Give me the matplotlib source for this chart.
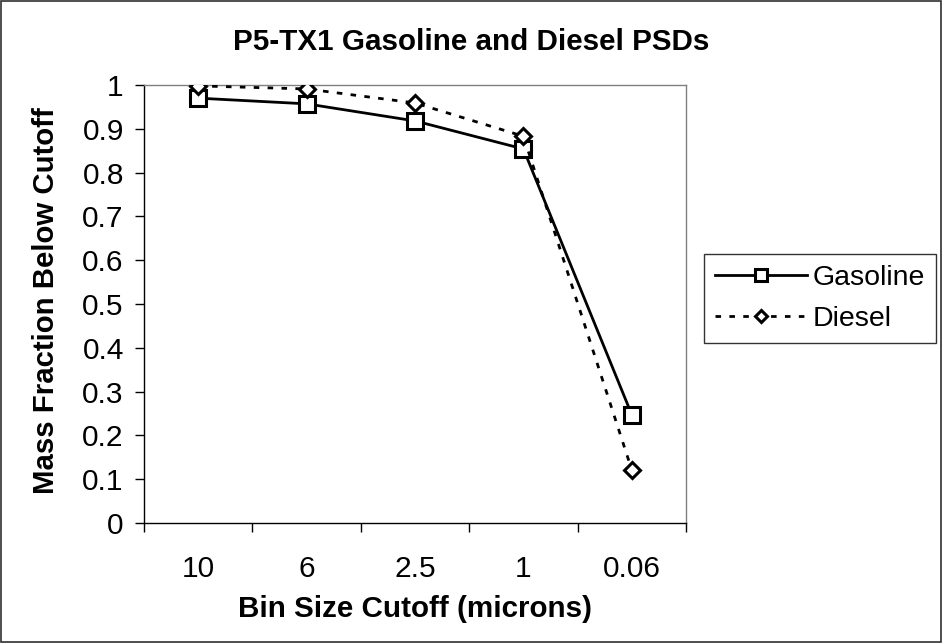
import matplotlib
matplotlib.use("Agg")
import matplotlib.pyplot as plt
from matplotlib.patches import Rectangle
import numpy as np

plt.rcParams["font.family"] = ["Liberation Sans", "DejaVu Sans"]

# --- datos ---
categories = ["10", "6", "2.5", "1", "0.06"]
gasoline = [0.970, 0.957, 0.918, 0.854, 0.247]
diesel = [0.998, 0.991, 0.959, 0.883, 0.121]
y_ticks = [0, 0.1, 0.2, 0.3, 0.4, 0.5, 0.6, 0.7, 0.8, 0.9, 1]
y_labels = ["0", "0.1", "0.2", "0.3", "0.4", "0.5", "0.6", "0.7", "0.8", "0.9", "1"]

fig = plt.figure(figsize=(9.43, 6.43), dpi=100)
ax = fig.add_axes([0.1527, 0.1866, 0.5748, 0.6812])

x = np.arange(len(categories))
ax.plot(x, gasoline, color="black", lw=2, marker="s", ms=11, mfc="white",
        mec="black", mew=2.2, label="Gasoline", zorder=3)
ax.plot(x, diesel, color="black", lw=2, ls=(0, (2, 3)), marker="D", ms=8.5,
        mfc="white", mec="black", mew=2.2, label="Diesel", zorder=4)

ax.set_xlim(-0.5, len(categories) - 0.5)
ax.set_ylim(0, 1)
ax.set_yticks(y_ticks)
ax.set_yticklabels(y_labels)
ax.set_xticks(x)
ax.set_xticklabels(categories)
ax.set_xticks(np.arange(-0.5, len(categories), 1.0), minor=True)
ax.tick_params(axis="x", which="major", length=0, pad=23, labelsize=21.5)
ax.tick_params(axis="x", which="minor", length=6.5, width=1, direction="out")
ax.tick_params(axis="y", length=6.5, width=1, direction="out", labelsize=21.5, pad=8)

for side in ["top", "right"]:
    ax.spines[side].set_color("#808080")
    ax.spines[side].set_linewidth(1)
for side in ["left", "bottom"]:
    ax.spines[side].set_color("black")
    ax.spines[side].set_linewidth(1)

fig.text(0.5, 0.934, "P5-TX1 Gasoline and Diesel PSDs", fontsize=21.3,
         fontweight="bold", ha="center", va="center")
fig.text(0.44, 0.053, "Bin Size Cutoff (microns)", fontsize=21.3,
         fontweight="bold", ha="center", va="center")
fig.text(0.049, 0.533, "Mass Fraction Below Cutoff", fontsize=21.2,
         fontweight="bold", ha="center", va="center", rotation=90)

leg = ax.legend(loc="upper left", bbox_to_anchor=(0.7466, 0.605),
                bbox_transform=fig.transFigure, fontsize=20.5, borderaxespad=0,
                frameon=True, fancybox=False, edgecolor="black", handlelength=3.2,
                borderpad=0.4, labelspacing=0.5, handletextpad=0.2,
                markerscale=0.75)
leg.get_frame().set_linewidth(1)

fig.patches.append(Rectangle((0.001, 0.001), 0.997, 0.997, transform=fig.transFigure,
                             fill=False, edgecolor="#303030", lw=1.2))

fig.savefig("out.png", dpi=100)
